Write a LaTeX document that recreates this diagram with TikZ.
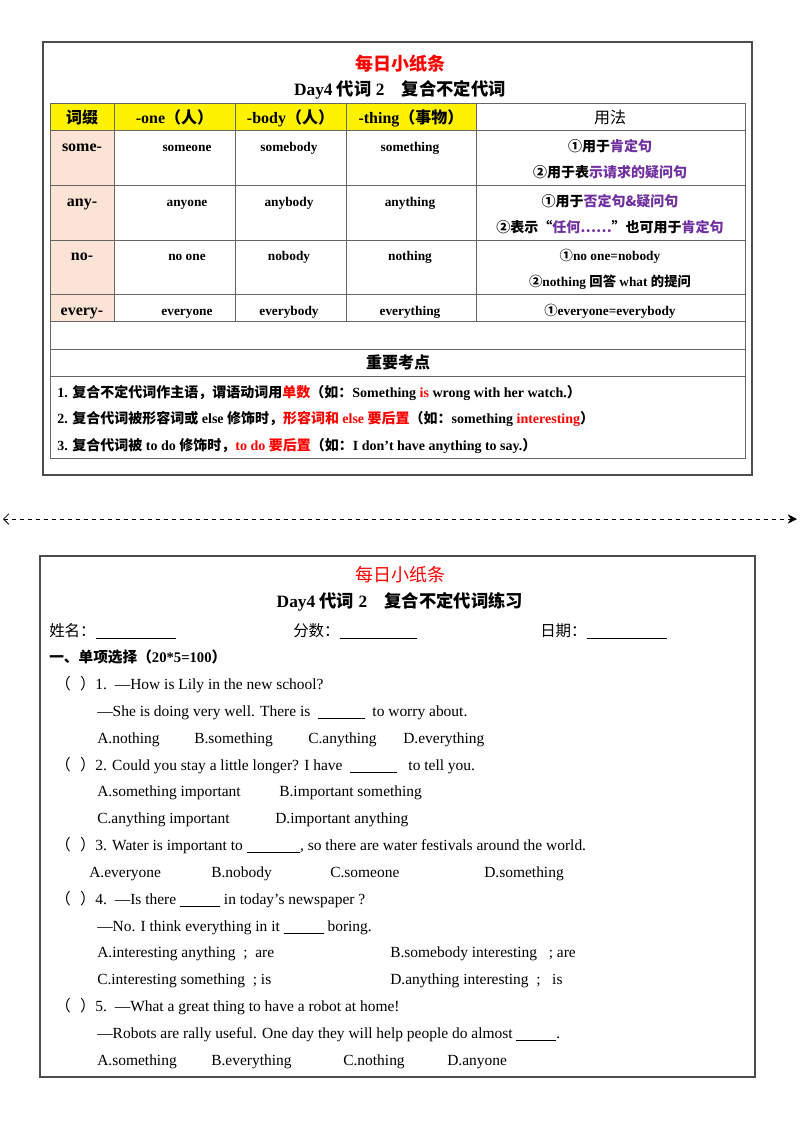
\documentclass[tikz,border=0pt]{standalone}
\usepackage{fontspec}
\setmainfont{Liberation Serif}
\newfontfamily\cn{Noto Sans CJK SC}
\usetikzlibrary{arrows.meta}
\definecolor{pur}{HTML}{7030A0}
\definecolor{peach}{HTML}{FBE4D5}
\newcommand{\bl}[1]{\rule[-2pt]{#1}{0.5pt}}
\begin{document}
\begin{tikzpicture}[x=0.75pt,y=-0.75pt,
  box/.style={draw=black!70,line width=0.8pt},
  grid/.style={draw=black!60,line width=0.6pt},
  tb/.style={font=\bfseries\fontsize{10}{12}\selectfont,inner sep=0pt,anchor=base},
  hd/.style={font=\bfseries\fontsize{12}{14}\selectfont,inner sep=0pt,anchor=base},
  tx/.style={font=\fontsize{11.6}{13}\selectfont,inner sep=0pt,anchor=base west},
  nt/.style={font=\bfseries\fontsize{10.5}{13}\selectfont,inner sep=0pt,anchor=base west}]
\useasboundingbox (0,0) rectangle (800,1132);
% ---------- top card ----------
\draw[box] (43,42) rectangle (752,475);
\node[font=\bfseries\fontsize{13.5}{16}\selectfont,text=red] (t1) at (400,64) {\cn 每日小纸条};
\node[font=\bfseries\fontsize{13}{16}\selectfont] (t2) at (400,90) {Day4 {\cn 代词} 2\quad{\cn 复合不定代词}};
\fill[yellow] (50,103) rectangle (476,130);
\fill[peach] (50,130) rectangle (114,321);
\draw[grid] (50,103) rectangle (745,458);
\foreach \y in {130,185,240,294,321,349,376} \draw[grid] (50,\y) -- (745,\y);
\foreach \x in {114,235,346,476} \draw[grid] (\x,103) -- (\x,321);
\node[hd] (h1) at (82,123) {\cn 词缀};
\node[hd] (h2) at (174.5,123) {-one{\cn （人）}};
\node[hd] (h3) at (290.5,123) {-body{\cn （人）}};
\node[hd] (h4) at (411,123) {-thing{\cn （事物）}};
\node[hd,font=\fontsize{12}{14}\selectfont] (h5) at (610,123) {\cn 用法};
\foreach \y/\a/\b/\c/\d in {151/some-/someone/somebody/something,206/any-/anyone/anybody/anything,260/no-/no one/nobody/nothing,315/every-/everyone/everybody/everything}{
  \node[hd] at (82,\y) {\a};
  \node[tb] at (187,\y) {\b};
  \node[tb] at (289,\y) {\c};
  \node[tb] at (410,\y) {\d};
}
\node[tb,font=\bfseries\fontsize{10.5}{13}\selectfont] (u1) at (610,151) {\cn ①用于\textcolor{pur}{肯定句}};
\node[tb,font=\bfseries\fontsize{10.5}{13}\selectfont] (u2) at (610,177) {\cn ②用于表\textcolor{pur}{示请求的疑问句}};
\node[tb,font=\bfseries\fontsize{10.5}{13}\selectfont] (u3) at (610,206) {\cn ①用于\textcolor{pur}{否定句\&疑问句}};
\node[tb,font=\bfseries\fontsize{10.5}{13}\selectfont] (u4) at (610,232) {\cn ②表示“\textcolor{pur}{任何……}”也可用于\textcolor{pur}{肯定句}};
\node[tb] (u5) at (610,260) {{\cn ①}no one=nobody};
\node[tb] (u6) at (610,286) {{\cn ②}nothing {\cn 回答} what {\cn 的提问}};
\node[tb] (u7) at (610,315) {{\cn ①}everyone=everybody};
\node[font=\bfseries\fontsize{12}{14}\selectfont,inner sep=0pt] (kd) at (398,362) {\cn 重要考点};
\node[nt] (n1) at (57,397) {1. {\cn 复合不定代词作主语，谓语动词用\textcolor{red}{单数}（如：}Something \textcolor{red}{is} wrong with her watch.{\cn ）}};
\node[nt] (n2) at (57,423) {2. {\cn 复合代词被形容词或} else {\cn 修饰时，\textcolor{red}{形容词和} }\textcolor{red}{else} {\cn \textcolor{red}{要后置}（如：}something \textcolor{red}{interesting}{\cn ）}};
\node[nt] (n3) at (57,450) {3. {\cn 复合代词被} to do {\cn 修饰时，}\textcolor{red}{to do {\cn 要后置}}{\cn （如：}I don't have anything to say.{\cn ）}};
% ---------- divider ----------
\coordinate (dl) at (3,519);
\coordinate (dr) at (797,519);
\draw[dashed,line width=0.6pt,{Straight Barb[length=4pt]}-{Stealth[length=7pt,width=7pt]}] (dl) -- (dr);
% ---------- bottom card ----------
\draw[box] (40,556) rectangle (755,1077);
\node[font=\fontsize{13.5}{16}\selectfont,text=red] (b1) at (400,575) {\cn 每日小纸条};
\node[font=\bfseries\fontsize{13}{16}\selectfont] (b2) at (400,602) {Day4 {\cn 代词} 2\quad{\cn 复合不定代词练习}};
\node[tx] (nm) at (49,636) {{\cn 姓名：}\bl{60pt}};
\node[tx] (fs) at (293,636) {{\cn 分数：}\bl{58pt}};
\node[tx] (rq) at (540,636) {{\cn 日期：}\bl{60pt}};
\node[tx,font=\bfseries\fontsize{11}{13}\selectfont] (s1) at (49,662) {{\cn 一、单项选择（}20*5=100{\cn ）}};
\node[tx] (q1) at (55,689) {{\cn （\hspace{0.6em}）}1.\ \ —How is Lily in the new school?};
\node[tx] at (97,716) {—She is doing very well. There is \ \bl{35pt}\ \ to worry about.};
\node[tx] at (97,743) {A.nothing};
\node[tx] at (194,743) {B.something};
\node[tx] at (308,743) {C.anything};
\node[tx] at (403,743) {D.everything};
\node[tx] (q2) at (55,770) {{\cn （\hspace{0.6em}）}2. Could you stay a little longer? I have \ \bl{35pt}\ \ \ to tell you.};
\node[tx] at (97,796) {A.something important};
\node[tx] at (279,796) {B.important something};
\node[tx] at (97,823) {C.anything important};
\node[tx] at (275,823) {D.important anything};
\node[tx] (q3) at (55,850) {{\cn （\hspace{0.6em}）}3. Water is important to \bl{40pt}, so there are water festivals around the world.};
\node[tx] at (89,877) {A.everyone};
\node[tx] at (211,877) {B.nobody};
\node[tx] at (330,877) {C.someone};
\node[tx] at (484,877) {D.something};
\node[tx] (q4) at (55,904) {{\cn （\hspace{0.6em}）}4.\ \ —Is there \bl{30pt} in today’s newspaper ?};
\node[tx] at (97,931) {—No. I think everything in it \bl{30pt} boring.};
\node[tx] at (97,957) {A.interesting anything \ ; \ are};
\node[tx] at (390,957) {B.somebody interesting \ \ ; are};
\node[tx] at (97,984) {C.interesting something \ ; is};
\node[tx] at (390,984) {D.anything interesting \ ; \ \ is};
\node[tx] (q5) at (55,1011) {{\cn （\hspace{0.6em}）}5.\ \ —What a great thing to have a robot at home!};
\node[tx] at (97,1038) {—Robots are rally useful. One day they will help people do almost \bl{30pt}.};
\node[tx] at (97,1065) {A.something};
\node[tx] at (211,1065) {B.everything};
\node[tx] at (343,1065) {C.nothing};
\node[tx] at (447,1065) {D.anyone};
\end{tikzpicture}
\end{document}
